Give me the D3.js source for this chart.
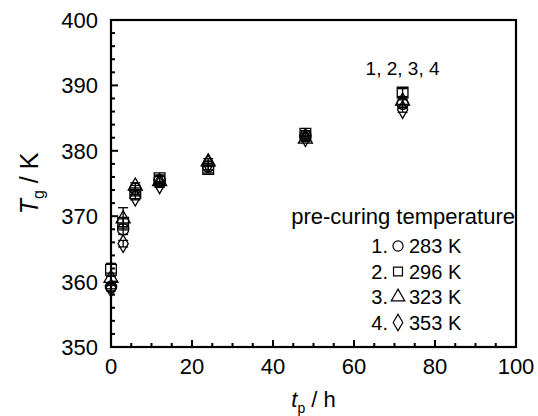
<!DOCTYPE html>
<html lang="en">
<head>
  <meta charset="UTF-8">
  <title>Tg vs tp</title>
  <style>
    body { margin: 0; background: #fff; }
    svg { display: block; }
    text { font-family: "Liberation Sans", Arial, sans-serif; fill: #000; }
  </style>
</head>
<body>
  <svg width="538" height="416"></svg>
  <script src="https://cdn.jsdelivr.net/npm/d3@7/dist/d3.min.js"></script>
  <script>
    // data
    const times = [0, 3, 6, 12, 24, 48, 72];
    const tg283 = [359.2, 368.0, 374.2, 375.5, 377.6, 382.3, 387.2];
    const tg296 = [361.8, 369.0, 373.5, 375.8, 377.2, 382.6, 388.9];
    const tg323 = [360.5, 369.6, 374.6, 375.3, 378.3, 381.8, 387.6];
    const tg353 = [359.0, 365.8, 372.9, 374.8, 378.0, 382.0, 386.3];
    const err283 = [0.3, 0.8, 0.5, 0.6, 0.5, 0.4, 0.6];
    const err296 = [1.0, 0.6, 0.4, 0.5, 0.6, 0.5, 0.6];
    const err323 = [0.8, 1.7, 0.5, 0.8, 0.5, 0.4, 0.5];
    const err353 = [0.4, 0.5, 0.4, 0.4, 0.4, 0.4, 0.4];
    const legendLabels = ["283 K", "296 K", "323 K", "353 K"];
    const xTicks = [0, 20, 40, 60, 80, 100];
    const yTicks = [350, 360, 370, 380, 390, 400];

    const series = [
      { vals: tg283, err: err283, sym: d3.symbolCircle },
      { vals: tg296, err: err296, sym: d3.symbolSquare },
      { vals: tg323, err: err323, sym: d3.symbolTriangle },
      { vals: tg353, err: err353, sym: d3.symbolDiamond }
    ];

    const svg = d3.select("svg");
    const pL = 111, pR = 516, pT = 20, pB = 347;

    const x = d3.scaleLinear().domain([0, 100]).range([pL, pR]);
    const y = d3.scaleLinear().domain([350, 400]).range([pB, pT]);

    // ticks, pointing inward (minor every 5 h / 2 K)
    const tickLen = 7, minorLen = 4;
    svg.append("g")
      .selectAll("line")
      .data(d3.range(0, 101, 5))
      .enter().append("line")
      .attr("x1", d => x(d)).attr("x2", d => x(d))
      .attr("y1", pB).attr("y2", d => pB - (d % 20 === 0 ? tickLen : minorLen))
      .attr("stroke", "#000").attr("stroke-width", 2);
    svg.append("g")
      .selectAll("line")
      .data(d3.range(350, 401, 2))
      .enter().append("line")
      .attr("y1", d => y(d)).attr("y2", d => y(d))
      .attr("x1", pL).attr("x2", d => pL + (d % 10 === 0 ? tickLen : minorLen))
      .attr("stroke", "#000").attr("stroke-width", 2);

    // frame
    svg.append("rect")
      .attr("x", pL).attr("y", pT)
      .attr("width", pR - pL).attr("height", pB - pT)
      .attr("fill", "none").attr("stroke", "#000").attr("stroke-width", 2.2);

    // tick labels
    svg.append("g").selectAll("text")
      .data(xTicks).enter().append("text")
      .attr("x", d => x(d)).attr("y", pB + 27)
      .attr("text-anchor", "middle")
      .style("font-size", "22px")
      .text(d => d);
    svg.append("g").selectAll("text")
      .data(yTicks).enter().append("text")
      .attr("x", pL - 13).attr("y", d => y(d) + 8)
      .attr("text-anchor", "end")
      .style("font-size", "22px")
      .text(d => d);

    // axis titles
    const xt = svg.append("text")
      .attr("x", x(50)).attr("y", 407)
      .attr("text-anchor", "middle")
      .style("font-size", "22px");
    xt.append("tspan").style("font-style", "italic").text("t");
    xt.append("tspan").attr("dy", 6).style("font-size", "14px").text("p");
    xt.append("tspan").attr("dy", -6).text(" / h");

    const yt = svg.append("text")
      .attr("transform", `translate(38,${(pT + pB) / 2}) rotate(-90)`)
      .attr("text-anchor", "middle")
      .style("font-size", "25px");
    yt.append("tspan").style("font-style", "italic").text("T");
    yt.append("tspan").attr("dy", 6).style("font-size", "16px").text("g");
    yt.append("tspan").attr("dy", -6).text(" / K");

    // error bars + markers
    const sizes = [100, 115, 85, 90];
    series.forEach((s, i) => {
      const g = svg.append("g");
      const pts = times.map((t, j) => ({ t: t, v: s.vals[j], e: s.err[j] }));
      g.selectAll("line.eb").data(pts).enter().append("line")
        .attr("x1", d => x(d.t)).attr("x2", d => x(d.t))
        .attr("y1", d => y(d.v - d.e)).attr("y2", d => y(d.v + d.e))
        .attr("stroke", "#000").attr("stroke-width", 1.3);
      ["lo", "hi"].forEach(k => {
        g.selectAll("line.cap" + k).data(pts).enter().append("line")
          .attr("x1", d => x(d.t) - 5).attr("x2", d => x(d.t) + 5)
          .attr("y1", d => y(k === "hi" ? d.v + d.e : d.v - d.e))
          .attr("y2", d => y(k === "hi" ? d.v + d.e : d.v - d.e))
          .attr("stroke", "#000").attr("stroke-width", 1.3);
      });
      g.selectAll("path").data(pts).enter().append("path")
        .attr("d", d3.symbol().type(s.sym).size(sizes[i]))
        .attr("transform", d => `translate(${x(d.t)},${y(d.v)})`)
        .attr("fill", "none").attr("stroke", "#000").attr("stroke-width", 1.3);
    });

    // annotation
    svg.append("text")
      .attr("x", x(72)).attr("y", 75)
      .attr("text-anchor", "middle")
      .style("font-size", "19px")
      .text("1, 2, 3, 4");

    // legend
    svg.append("text")
      .attr("x", 515).attr("y", 224)
      .attr("text-anchor", "end")
      .style("font-size", "22px")
      .text("pre-curing temperature");
    const leg = svg.append("g");
    legendLabels.forEach((lab, i) => {
      const cy = 246 + i * 25.5;
      leg.append("text")
        .attr("x", 388).attr("y", cy + 7)
        .attr("text-anchor", "end")
        .style("font-size", "20px")
        .text((i + 1) + ".");
      leg.append("path")
        .attr("d", d3.symbol().type(series[i].sym).size(80))
        .attr("transform", `translate(398,${cy})`)
        .attr("fill", "none").attr("stroke", "#000").attr("stroke-width", 1.2);
      leg.append("text")
        .attr("x", 409).attr("y", cy + 7)
        .style("font-size", "20px")
        .text(lab);
    });
  </script>
</body>
</html>
